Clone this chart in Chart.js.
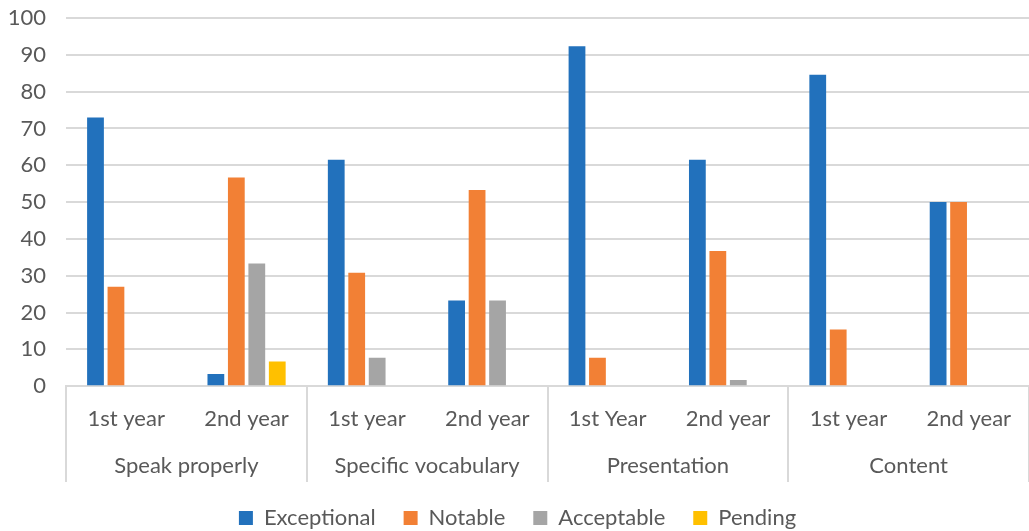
<!DOCTYPE html>
<html>
<head>
<meta charset="utf-8">
<script src="https://cdn.jsdelivr.net/npm/chart.js@4.4.0/dist/chart.umd.min.js"></script>
<style>
  html, body { margin: 0; padding: 0; background: #fff; }
  #wrap { width: 1029px; height: 531px; }
</style>
</head>
<body>
<div id="wrap"><canvas id="myChart"></canvas></div>
<script>
const years = ['1st year', '2nd year', '1st year', '2nd year', '1st Year', '2nd year', '1st year', '2nd year'];
const skills = ['Speak properly', 'Specific vocabulary', 'Presentation', 'Content'];

const exceptional = [73.0, 3.3, 61.5, 23.3, 92.3, 61.5, 84.6, 50.0];
const notable     = [27.0, 56.7, 30.8, 53.3, 7.7, 36.7, 15.4, 50.0];
const acceptable  = [0, 33.3, 7.7, 23.3, 0, 1.7, 0, 0];
const pending     = [0, 6.7, 0, 0, 0, 0, 0, 0];

const yTicks = [0, 10, 20, 30, 40, 50, 60, 70, 80, 90, 100];

const FONT = 'Lato, "Open Sans", sans-serif';
const TEXT = '#595959';
const GRID = '#d9d9d9';

// vertical separators between the skill groups, under the plot area
const groupLines = {
  id: 'groupLines',
  afterDraw(chart) {
    const x = chart.scales.x;
    const x2 = chart.scales.x2;
    const ctx = chart.ctx;
    const half = (x.getPixelForValue(1) - x.getPixelForValue(0)) / 2;
    ctx.save();
    ctx.strokeStyle = GRID;
    ctx.lineWidth = 2;
    for (let i = 0; i <= years.length; i += 2) {
      const px = Math.round(x.getPixelForValue(i) - half);
      ctx.beginPath();
      ctx.moveTo(px, chart.chartArea.bottom);
      ctx.lineTo(px, x2.bottom + 3);
      ctx.stroke();
    }
    ctx.restore();
  }
};

const data = {
  labels: years,
  datasets: [{
    label: 'Exceptional',
    backgroundColor: '#2271bc',
    data: exceptional,
  },
  {
    label: 'Notable',
    backgroundColor: '#f28035',
    data: notable,
  },
  {
    label: 'Acceptable',
    backgroundColor: '#a5a5a5',
    data: acceptable,
  },
  {
    label: 'Pending',
    backgroundColor: '#ffc000',
    data: pending,
  }]
};

const config = {
  type: 'bar',
  data: data,
  plugins: [groupLines],
  options: {
    responsive: true,
    maintainAspectRatio: false,
    animation: false,
    categoryPercentage: 0.68,
    barPercentage: 0.82,
    layout: { padding: { top: 18, right: 0, left: 6, bottom: 0 } },
    scales: {
      x: {
        grid: { display: false },
        border: { display: true, color: GRID, width: 2 },
        ticks: {
          color: TEXT,
          font: { family: FONT, size: 22 },
          padding: 12,
          maxRotation: 0,
          autoSkip: false
        }
      },
      x2: {
        type: 'category',
        labels: skills,
        position: 'bottom',
        offset: true,
        grid: { display: false },
        border: { display: false },
        ticks: {
          color: TEXT,
          font: { family: FONT, size: 22 },
          padding: 0,
          maxRotation: 0,
          autoSkip: false
        }
      },
      y: {
        min: 0,
        max: 100,
        afterBuildTicks(axis) {
          axis.ticks = yTicks.map(v => ({ value: v }));
        },
        afterFit(axis) {
          axis.width = 60;
          axis.paddingTop = 0;
        },
        grid: { color: GRID, lineWidth: 2, drawTicks: false },
        border: { display: false },
        ticks: {
          color: TEXT,
          font: { family: FONT, size: 22 },
          padding: 20
        }
      }
    },
    plugins: {
      legend: {
        position: 'bottom',
        maxHeight: 52,
        labels: {
          color: TEXT,
          font: { family: FONT, size: 22 },
          boxWidth: 14,
          boxHeight: 14,
          padding: 28
        }
      },
      tooltip: { enabled: false }
    }
  }
};

const myChart = new Chart(
  document.getElementById('myChart'),
  config
);
</script>
</body>
</html>
